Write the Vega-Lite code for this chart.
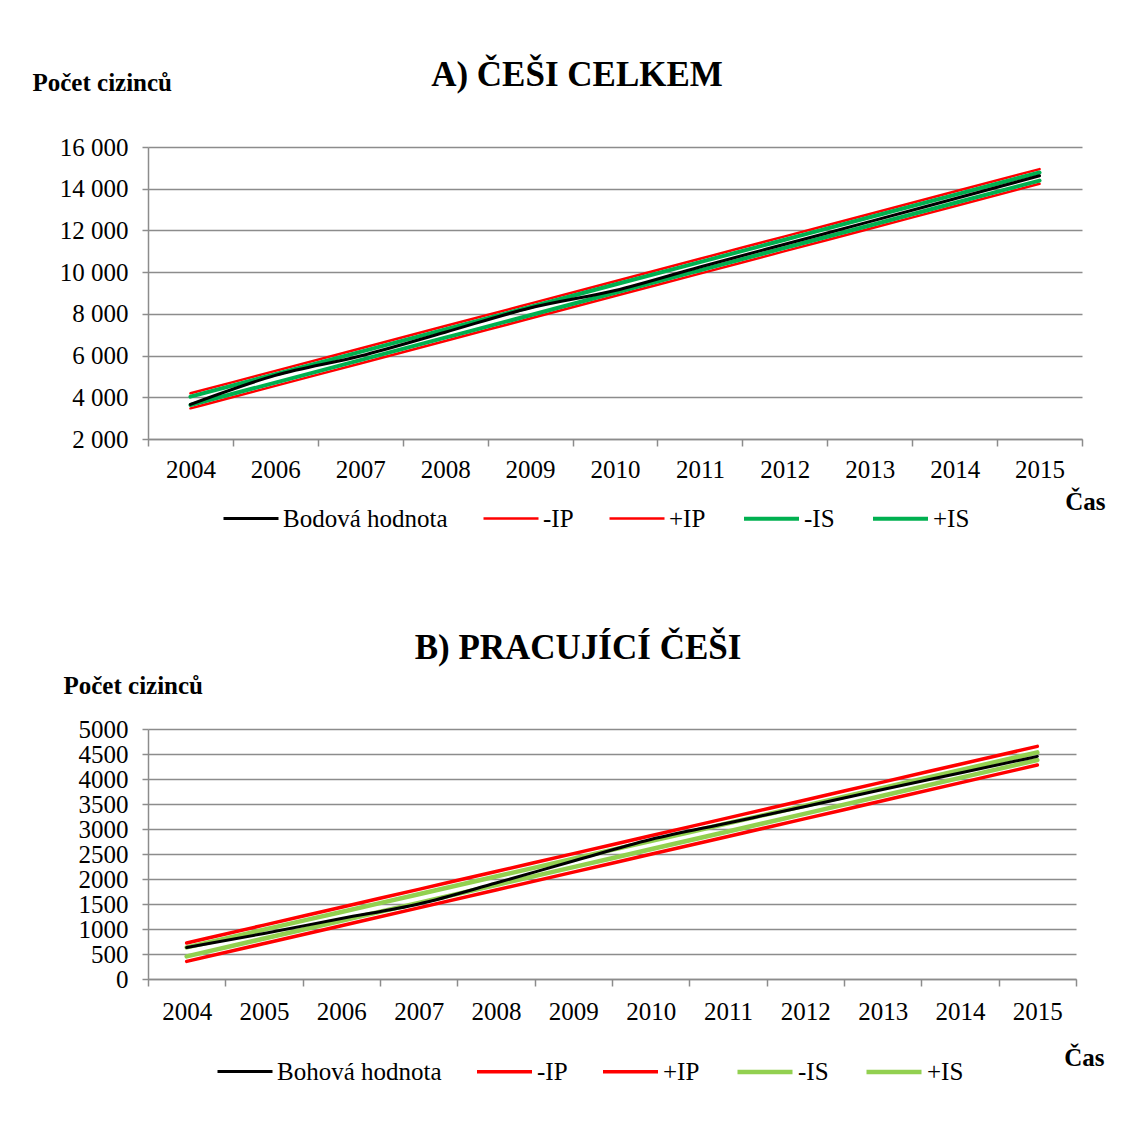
{
  "$schema": "https://vega.github.io/schema/vega-lite/v6.json",
  "background": "white",
  "padding": {"left": 32, "top": 58, "right": 5, "bottom": 5},
  "bounds": "flush",
  "spacing": 290,
  "config": {
    "font": "Liberation Serif",
    "view": {"stroke": null},
    "axis": {
      "labelFont": "Liberation Serif", "labelFontSize": 25, "labelColor": "black",
      "titleFont": "Liberation Serif", "titleFontSize": 25, "titleFontWeight": "bold", "titleColor": "black",
      "domainColor": "#8c8c8c", "domainWidth": 1.5,
      "tickColor": "#8c8c8c", "tickWidth": 1.5,
      "gridColor": "#8c8c8c", "gridWidth": 1.5,
      "labelOverlap": false
    },
    "legend": {"labelFont": "Liberation Serif", "labelFontSize": 25, "labelColor": "black", "labelLimit": 400},
    "title": {"font": "Liberation Serif", "fontSize": 35, "fontWeight": "bold", "color": "black"}
  },
  "resolve": {
    "scale": {"color": "independent", "strokeWidth": "independent", "x": "independent", "y": "independent"},
    "legend": {"color": "independent"}
  },
  "datasets": {
    "cesi": [
      {"rok": "2004", "rada": "-IP", "hodnota": 3470},
      {"rok": "2006", "rada": "-IP", "hodnota": 4547},
      {"rok": "2007", "rada": "-IP", "hodnota": 5623},
      {"rok": "2008", "rada": "-IP", "hodnota": 6700},
      {"rok": "2009", "rada": "-IP", "hodnota": 7776},
      {"rok": "2010", "rada": "-IP", "hodnota": 8853},
      {"rok": "2011", "rada": "-IP", "hodnota": 9929},
      {"rok": "2012", "rada": "-IP", "hodnota": 11006},
      {"rok": "2013", "rada": "-IP", "hodnota": 12082},
      {"rok": "2014", "rada": "-IP", "hodnota": 13159},
      {"rok": "2015", "rada": "-IP", "hodnota": 14235},
      {"rok": "2004", "rada": "+IP", "hodnota": 4190},
      {"rok": "2006", "rada": "+IP", "hodnota": 5265},
      {"rok": "2007", "rada": "+IP", "hodnota": 6340},
      {"rok": "2008", "rada": "+IP", "hodnota": 7415},
      {"rok": "2009", "rada": "+IP", "hodnota": 8490},
      {"rok": "2010", "rada": "+IP", "hodnota": 9565},
      {"rok": "2011", "rada": "+IP", "hodnota": 10640},
      {"rok": "2012", "rada": "+IP", "hodnota": 11715},
      {"rok": "2013", "rada": "+IP", "hodnota": 12790},
      {"rok": "2014", "rada": "+IP", "hodnota": 13865},
      {"rok": "2015", "rada": "+IP", "hodnota": 14940},
      {"rok": "2004", "rada": "-IS", "hodnota": 3630},
      {"rok": "2006", "rada": "-IS", "hodnota": 4706},
      {"rok": "2007", "rada": "-IS", "hodnota": 5782},
      {"rok": "2008", "rada": "-IS", "hodnota": 6858},
      {"rok": "2009", "rada": "-IS", "hodnota": 7934},
      {"rok": "2010", "rada": "-IS", "hodnota": 9010},
      {"rok": "2011", "rada": "-IS", "hodnota": 10086},
      {"rok": "2012", "rada": "-IS", "hodnota": 11162},
      {"rok": "2013", "rada": "-IS", "hodnota": 12238},
      {"rok": "2014", "rada": "-IS", "hodnota": 13314},
      {"rok": "2015", "rada": "-IS", "hodnota": 14390},
      {"rok": "2004", "rada": "+IS", "hodnota": 4030},
      {"rok": "2006", "rada": "+IS", "hodnota": 5105},
      {"rok": "2007", "rada": "+IS", "hodnota": 6180},
      {"rok": "2008", "rada": "+IS", "hodnota": 7255},
      {"rok": "2009", "rada": "+IS", "hodnota": 8330},
      {"rok": "2010", "rada": "+IS", "hodnota": 9405},
      {"rok": "2011", "rada": "+IS", "hodnota": 10480},
      {"rok": "2012", "rada": "+IS", "hodnota": 11555},
      {"rok": "2013", "rada": "+IS", "hodnota": 12630},
      {"rok": "2014", "rada": "+IS", "hodnota": 13705},
      {"rok": "2015", "rada": "+IS", "hodnota": 14780},
      {"rok": "2004", "rada": "Bodová hodnota", "hodnota": 3660},
      {"rok": "2006", "rada": "Bodová hodnota", "hodnota": 5050},
      {"rok": "2007", "rada": "Bodová hodnota", "hodnota": 5980},
      {"rok": "2008", "rada": "Bodová hodnota", "hodnota": 7120},
      {"rok": "2009", "rada": "Bodová hodnota", "hodnota": 8280},
      {"rok": "2010", "rada": "Bodová hodnota", "hodnota": 9120},
      {"rok": "2011", "rada": "Bodová hodnota", "hodnota": 10250},
      {"rok": "2012", "rada": "Bodová hodnota", "hodnota": 11340},
      {"rok": "2013", "rada": "Bodová hodnota", "hodnota": 12420},
      {"rok": "2014", "rada": "Bodová hodnota", "hodnota": 13520},
      {"rok": "2015", "rada": "Bodová hodnota", "hodnota": 14620}
    ],
    "pracujici": [
      {"rok": "2004", "rada": "-IP", "hodnota": 352},
      {"rok": "2005", "rada": "-IP", "hodnota": 709},
      {"rok": "2006", "rada": "-IP", "hodnota": 1066},
      {"rok": "2007", "rada": "-IP", "hodnota": 1423},
      {"rok": "2008", "rada": "-IP", "hodnota": 1780},
      {"rok": "2009", "rada": "-IP", "hodnota": 2137},
      {"rok": "2010", "rada": "-IP", "hodnota": 2494},
      {"rok": "2011", "rada": "-IP", "hodnota": 2851},
      {"rok": "2012", "rada": "-IP", "hodnota": 3208},
      {"rok": "2013", "rada": "-IP", "hodnota": 3565},
      {"rok": "2014", "rada": "-IP", "hodnota": 3922},
      {"rok": "2015", "rada": "-IP", "hodnota": 4280},
      {"rok": "2004", "rada": "+IP", "hodnota": 720},
      {"rok": "2005", "rada": "+IP", "hodnota": 1078},
      {"rok": "2006", "rada": "+IP", "hodnota": 1435},
      {"rok": "2007", "rada": "+IP", "hodnota": 1793},
      {"rok": "2008", "rada": "+IP", "hodnota": 2150},
      {"rok": "2009", "rada": "+IP", "hodnota": 2508},
      {"rok": "2010", "rada": "+IP", "hodnota": 2865},
      {"rok": "2011", "rada": "+IP", "hodnota": 3223},
      {"rok": "2012", "rada": "+IP", "hodnota": 3580},
      {"rok": "2013", "rada": "+IP", "hodnota": 3938},
      {"rok": "2014", "rada": "+IP", "hodnota": 4295},
      {"rok": "2015", "rada": "+IP", "hodnota": 4652},
      {"rok": "2004", "rada": "-IS", "hodnota": 452},
      {"rok": "2005", "rada": "-IS", "hodnota": 809},
      {"rok": "2006", "rada": "-IS", "hodnota": 1166},
      {"rok": "2007", "rada": "-IS", "hodnota": 1523},
      {"rok": "2008", "rada": "-IS", "hodnota": 1880},
      {"rok": "2009", "rada": "-IS", "hodnota": 2237},
      {"rok": "2010", "rada": "-IS", "hodnota": 2594},
      {"rok": "2011", "rada": "-IS", "hodnota": 2951},
      {"rok": "2012", "rada": "-IS", "hodnota": 3308},
      {"rok": "2013", "rada": "-IS", "hodnota": 3665},
      {"rok": "2014", "rada": "-IS", "hodnota": 4022},
      {"rok": "2015", "rada": "-IS", "hodnota": 4380},
      {"rok": "2004", "rada": "+IS", "hodnota": 632},
      {"rok": "2005", "rada": "+IS", "hodnota": 987},
      {"rok": "2006", "rada": "+IS", "hodnota": 1341},
      {"rok": "2007", "rada": "+IS", "hodnota": 1696},
      {"rok": "2008", "rada": "+IS", "hodnota": 2050},
      {"rok": "2009", "rada": "+IS", "hodnota": 2405},
      {"rok": "2010", "rada": "+IS", "hodnota": 2759},
      {"rok": "2011", "rada": "+IS", "hodnota": 3114},
      {"rok": "2012", "rada": "+IS", "hodnota": 3468},
      {"rok": "2013", "rada": "+IS", "hodnota": 3823},
      {"rok": "2014", "rada": "+IS", "hodnota": 4177},
      {"rok": "2015", "rada": "+IS", "hodnota": 4532},
      {"rok": "2004", "rada": "Bohová hodnota", "hodnota": 632},
      {"rok": "2005", "rada": "Bohová hodnota", "hodnota": 910},
      {"rok": "2006", "rada": "Bohová hodnota", "hodnota": 1210},
      {"rok": "2007", "rada": "Bohová hodnota", "hodnota": 1500},
      {"rok": "2008", "rada": "Bohová hodnota", "hodnota": 1920},
      {"rok": "2009", "rada": "Bohová hodnota", "hodnota": 2360},
      {"rok": "2010", "rada": "Bohová hodnota", "hodnota": 2790},
      {"rok": "2011", "rada": "Bohová hodnota", "hodnota": 3120},
      {"rok": "2012", "rada": "Bohová hodnota", "hodnota": 3450},
      {"rok": "2013", "rada": "Bohová hodnota", "hodnota": 3790},
      {"rok": "2014", "rada": "Bohová hodnota", "hodnota": 4120},
      {"rok": "2015", "rada": "Bohová hodnota", "hodnota": 4452}
    ]
  },
  "vconcat": [
    {
      "width": 934,
      "height": 292,
      "title": {"text": "A) ČEŠI CELKEM", "anchor": "middle", "frame": "group", "dx": -38, "offset": -23},
      "data": {"name": "cesi"},
      "mark": {"type": "line", "interpolate": "monotone", "strokeCap": "round"},
      "encoding": {
        "x": {
          "field": "rok", "type": "ordinal", "bandPosition": 0.5,
          "scale": {"type": "band", "paddingInner": 0, "paddingOuter": 0},
          "axis": {"title": "Čas", "titleX": 957, "titleY": 62, "titleAlign": "right", "titleBaseline": "middle", "titleAngle": 0,
                   "labelAngle": 0, "tickBand": "extent", "tickSize": 7, "labelPadding": 11, "grid": false}
        },
        "y": {
          "field": "hodnota", "type": "quantitative",
          "scale": {"domain": [2000, 16000]},
          "axis": {"values": [2000, 4000, 6000, 8000, 10000, 12000, 14000, 16000],
                   "title": "Počet cizinců", "titleAngle": 0, "titleX": -116, "titleY": -65, "titleAlign": "left", "titleBaseline": "middle",
                   "labelExpr": "replace(format(datum.value, ','), ',', ' ')", "tickSize": 6, "labelPadding": 14, "grid": true}
        },
        "color": {
          "field": "rada", "type": "nominal",
          "scale": {"domain": ["Bodová hodnota", "-IP", "+IP", "-IS", "+IS"], "range": ["#000000", "#ff0000", "#ff0000", "#00b050", "#00b050"]},
          "legend": {"orient": "none", "legendX": 74, "legendY": 342, "direction": "horizontal", "title": null, "symbolType": "stroke", "symbolSize": 3025, "columnPadding": 30, "labelOffset": 3, "symbolStrokeWidth": 6,
                     "encode": {"symbols": {"update": {"strokeWidth": {"signal": "datum.index >= 1 && datum.index <= 2 ? 2 : (datum.index >= 3 ? 4 : 6)"}}}}}
        },
        "strokeWidth": {
          "field": "rada", "type": "nominal",
          "scale": {"type": "ordinal", "domain": ["Bodová hodnota", "-IP", "+IP", "-IS", "+IS"], "range": [3, 2.5, 2.5, 4, 4]},
          "legend": null
        }
      }
    },
    {
      "width": 928,
      "height": 250,
      "title": {"text": "B) PRACUJÍCÍ ČEŠI", "anchor": "middle", "frame": "group", "dx": -34, "offset": 7},
      "data": {"name": "pracujici"},
      "mark": {"type": "line", "interpolate": "monotone", "strokeCap": "round"},
      "encoding": {
        "x": {
          "field": "rok", "type": "ordinal", "bandPosition": 0.5,
          "scale": {"type": "band", "paddingInner": 0, "paddingOuter": 0},
          "axis": {"title": "Čas", "titleX": 956, "titleY": 78, "titleAlign": "right", "titleBaseline": "middle", "titleAngle": 0,
                   "labelAngle": 0, "tickBand": "extent", "tickSize": 7, "labelPadding": 13, "grid": false}
        },
        "y": {
          "field": "hodnota", "type": "quantitative",
          "scale": {"domain": [0, 5000]},
          "axis": {"values": [0, 500, 1000, 1500, 2000, 2500, 3000, 3500, 4000, 4500, 5000], "format": "d",
                   "title": "Počet cizinců", "titleAngle": 0, "titleX": -85, "titleY": -44, "titleAlign": "left", "titleBaseline": "middle",
                   "tickSize": 6, "labelPadding": 14, "grid": true}
        },
        "color": {
          "field": "rada", "type": "nominal",
          "scale": {"domain": ["Bohová hodnota", "-IP", "+IP", "-IS", "+IS"], "range": ["#000000", "#ff0000", "#ff0000", "#92d050", "#92d050"]},
          "legend": {"orient": "none", "legendX": 68, "legendY": 313, "direction": "horizontal", "title": null, "symbolType": "stroke", "symbolSize": 3025, "columnPadding": 28, "labelOffset": 3, "symbolStrokeWidth": 6,
                     "encode": {"symbols": {"update": {"strokeWidth": {"signal": "datum.index >= 1 ? 4 : 6"}}}}}
        },
        "strokeWidth": {
          "field": "rada", "type": "nominal",
          "scale": {"type": "ordinal", "domain": ["Bohová hodnota", "-IP", "+IP", "-IS", "+IS"], "range": [3, 3.5, 3.5, 4.5, 4.5]},
          "legend": null
        }
      }
    }
  ]
}
